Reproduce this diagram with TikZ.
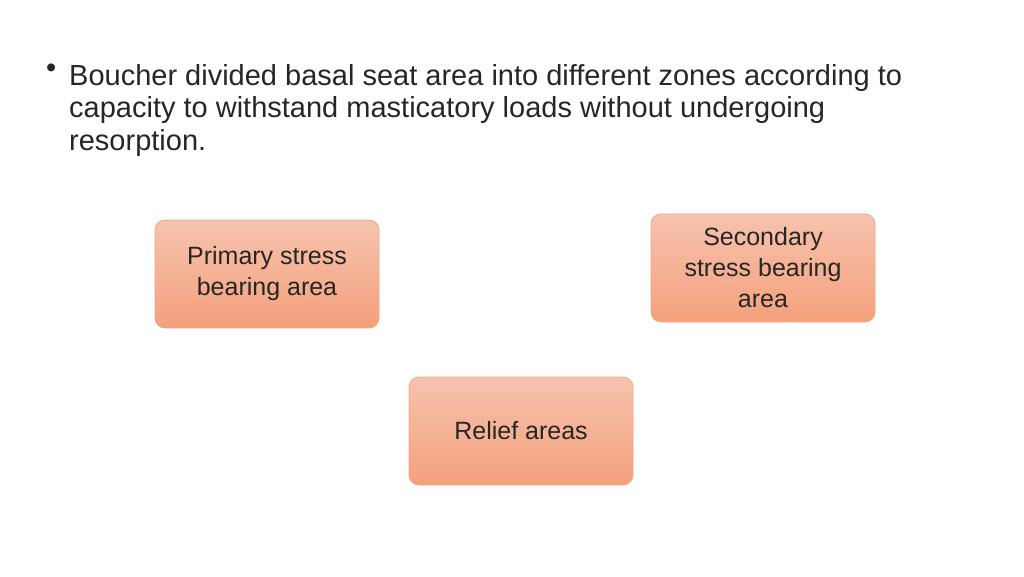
\documentclass[tikz,border=0pt]{standalone}
\usepackage{fontspec}
\setmainfont{Liberation Sans}
\definecolor{ztop}{HTML}{F7C3AE}
\definecolor{zbot}{HTML}{F4A07C}
\definecolor{zline}{HTML}{F2A585}
\begin{document}
\begin{tikzpicture}[x=1pt,y=-1pt,
  zone/.style={draw=zline, line width=0.8pt, rounded corners=10pt,
    top color=ztop, bottom color=zbot,
    minimum width=224pt, minimum height=108pt, align=center,
    font=\fontsize{25}{31}\selectfont, text=black!85},
  txt/.style={anchor=north west, align=left, font=\fontsize{29}{32.5}\selectfont, text=black!85}]
\useasboundingbox (0,0) rectangle (1024,576);
\node[txt, inner sep=0pt] (bul) at (46,64) {\textbullet};
\node[txt, inner sep=0pt] (para) at (69,64)
  {Boucher divided basal seat area into different zones according to\\capacity to withstand masticatory loads without undergoing\\resorption.};
\node[zone] (prim) at (267,274) {Primary stress\\bearing area};
\node[zone] (sec) at (763,268) {Secondary\\stress bearing\\area};
\node[zone] (rel) at (521,431) {Relief areas};
\end{tikzpicture}
\end{document}
